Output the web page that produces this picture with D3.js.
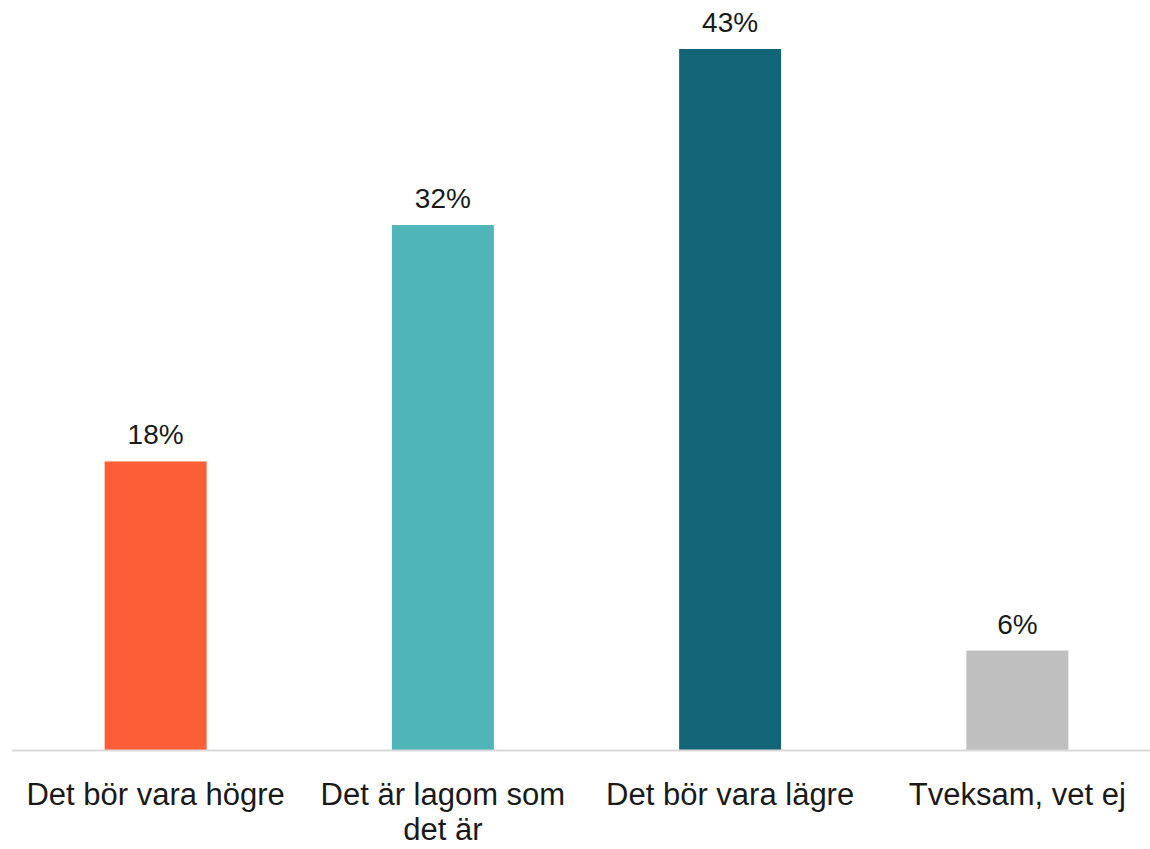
<html>
<head>
    <meta charset="utf-8">
    <script src="https://d3js.org/d3.v7.min.js"></script>
    <style>
        body { margin: 0; background: #fff; }
        text { font-family: "Liberation Sans", Arial, sans-serif; fill: #1a1a1a; }
    </style>
</head>
<body>
    <svg id="chart"></svg>
    <script>
        var categories = ["Det bör vara högre", "Det är lagom som det är", "Det bör vara lägre", "Tveksam, vet ej"];
        var labelLines = [["Det bör vara högre"], ["Det är lagom som", "det är"], ["Det bör vara lägre"], ["Tveksam, vet ej"]];
        var values = [17.7, 32.2, 43.0, 6.1];
        var valueLabels = ["18%", "32%", "43%", "6%"];
        var colors = ["#fc5f38", "#4fb5b8", "#126477", "#bfbfbf"];

        var width = 1150, height = 849;
        var baseY = 750;

        var svg = d3.select("#chart").attr("width", width).attr("height", height);

        var x = d3.scaleBand().domain(categories).range([12, 1161])
            .paddingInner(0.645).paddingOuter(0.3225);
        var y = d3.scaleLinear().domain([0, 43]).range([baseY, 49]);

        svg.selectAll("rect.bar")
            .data(values)
            .enter()
            .append("rect")
            .attr("class", "bar")
            .attr("x", function (d, i) { return x(categories[i]); })
            .attr("y", function (d) { return y(d); })
            .attr("width", x.bandwidth())
            .attr("height", function (d) { return baseY - y(d); })
            .attr("fill", function (d, i) { return colors[i]; });

        // axis line
        svg.append("line")
            .attr("x1", 12).attr("x2", width)
            .attr("y1", baseY + 0.5).attr("y2", baseY + 0.5)
            .attr("stroke", "#d9d9d9").attr("stroke-width", 2);

        svg.selectAll("text.val")
            .data(values)
            .enter()
            .append("text")
            .attr("class", "val")
            .attr("x", function (d, i) { return x(categories[i]) + x.bandwidth() / 2; })
            .attr("y", function (d) { return y(d) - 17; })
            .attr("text-anchor", "middle")
            .attr("font-size", 28)
            .text(function (d, i) { return valueLabels[i]; });

        var cat = svg.selectAll("text.cat")
            .data(labelLines)
            .enter()
            .append("text")
            .attr("class", "cat")
            .attr("text-anchor", "middle")
            .attr("font-size", 31)
            .attr("x", function (d, i) { return x(categories[i]) + x.bandwidth() / 2; })
            .attr("y", 805);
        cat.selectAll("tspan")
            .data(function (d) { return d; })
            .enter()
            .append("tspan")
            .attr("x", function () { return d3.select(this.parentNode).attr("x"); })
            .attr("dy", function (d, j) { return j === 0 ? 0 : 35; })
            .text(function (d) { return d; });
    </script>
</body>
</html>
